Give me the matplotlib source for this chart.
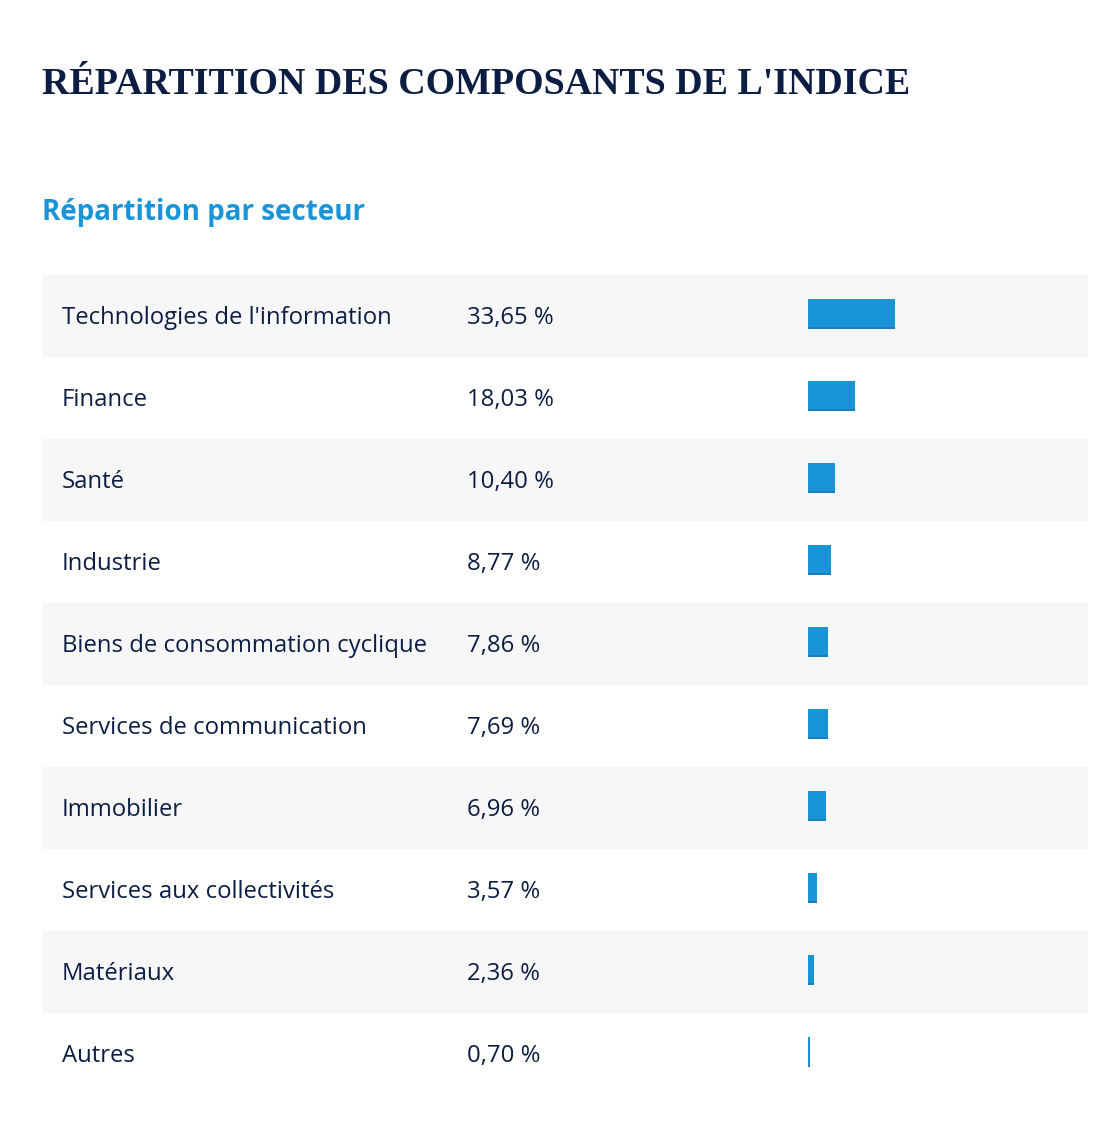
import matplotlib
matplotlib.use("Agg")
import matplotlib.pyplot as plt

secteurs = [
    "Technologies de l'information",
    "Finance",
    "Santé",
    "Industrie",
    "Biens de consommation cyclique",
    "Services de communication",
    "Immobilier",
    "Services aux collectivités",
    "Matériaux",
    "Autres",
]
poids = [33.65, 18.03, 10.40, 8.77, 7.86, 7.69, 6.96, 3.57, 2.36, 0.70]

W, H = 1116, 1126
navy = "#0b1d42"
blue = "#1a94d8"
blue_dark = "#177fbb"
band = "#f7f7f7"

fig = plt.figure(figsize=(W / 100, H / 100), dpi=100)
fig.patch.set_facecolor("white")


def px_box(x0, y0, x1, y1):
    return [x0 / W, 1 - y1 / H, (x1 - x0) / W, (y1 - y0) / H]


# titres
fig.text(42 / W, 1 - 94 / H, "RÉPARTITION DES COMPOSANTS DE L'INDICE",
         fontsize=27.3, fontweight="bold", family="Liberation Serif",
         color=navy, va="baseline", ha="left")
fig.text(42 / W, 1 - 220 / H, "Répartition par secteur",
         fontsize=20, fontweight="bold", family="Open Sans",
         color=blue, va="baseline", ha="left")

n = len(secteurs)
top, row_h = 275, 82

# tableau (fonds + textes)
ax = fig.add_axes(px_box(42, top, 1088, top + n * row_h))
ax.set_xlim(0, 1)
ax.set_ylim(n, 0)
ax.axis("off")
base = 0.5 + 8 / row_h
for i, (nom, val) in enumerate(zip(secteurs, poids)):
    if i % 2 == 0:
        ax.axhspan(i, i + 1, color=band, lw=0, zorder=0)
    ax.text(0.0191, i + base, nom, fontsize=17.2, family="Open Sans",
            color=navy, va="baseline", ha="left")
    ax.text(0.4063, i + base, f"{val:.2f} %".replace(".", ","),
            fontsize=17.2, family="Open Sans",
            color=navy, va="baseline", ha="left")

# barres
axb = fig.add_axes(px_box(808, top, 808 + 258.5, top + n * row_h))
axb.set_xlim(0, 100)
axb.set_ylim(n, 0)
axb.axis("off")
axb.patch.set_alpha(0)
ys = [i + 0.475 for i in range(n)]
axb.barh(ys, poids, height=30 / row_h, color=blue, lw=0)
axb.barh([y + 14 / row_h for y in ys], poids, height=2.5 / row_h,
         color=blue_dark, lw=0)

fig.savefig("out.png", dpi=100, facecolor="white")
